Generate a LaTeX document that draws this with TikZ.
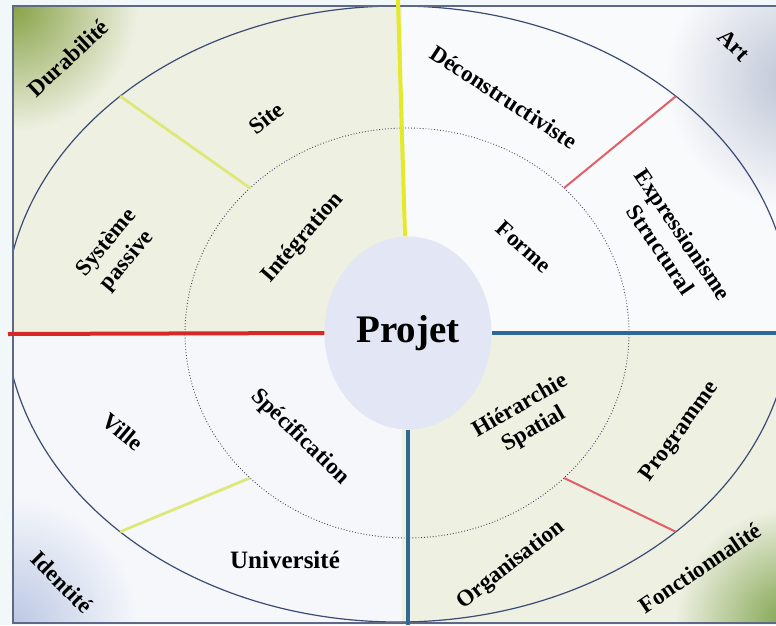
\documentclass[tikz,border=0pt]{standalone}
\usepackage{fontspec}
\setmainfont{Liberation Serif}
\usepackage{xcolor}
\usetikzlibrary{shapes.geometric,positioning}
\definecolor{cBack}{RGB}{242,247,250}
\definecolor{cFrame}{RGB}{95,105,135}
\definecolor{cRing}{RGB}{60,75,115}
\definecolor{cDot}{RGB}{70,75,95}
\definecolor{cBeige}{RGB}{238,240,226}
\definecolor{cWhite}{RGB}{249,250,252}
\definecolor{cPale}{RGB}{245,247,251}
\definecolor{cOlive}{RGB}{135,162,70}
\definecolor{cSlate}{RGB}{188,196,212}
\definecolor{cSky}{RGB}{188,200,228}
\definecolor{cMoss}{RGB}{125,162,75}
\definecolor{cYel}{RGB}{228,234,40}
\definecolor{cYelPale}{RGB}{222,232,120}
\definecolor{cRed}{RGB}{215,40,40}
\definecolor{cRose}{RGB}{225,95,105}
\definecolor{cBlue}{RGB}{45,105,150}
\definecolor{cCore}{RGB}{226,230,245}
\tikzset{
  lab/.style={font=\bfseries\fontsize{23}{27}\selectfont,align=center,inner sep=0pt},
  spoke/.style={line width=4pt},
}

\begin{document}
\begin{tikzpicture}[x=1pt,y=-1pt]
  \useasboundingbox (0,0) rectangle (776,625);
  \clip (0,0) rectangle (776,625);
  % page and quadrants
  \fill[cBack] (0,0) rectangle (776,625);
  \fill[cBeige] (13,6) rectangle (402,333);
  \fill[cWhite] (402,6) rectangle (790,333);
  \fill[cPale] (13,333) rectangle (402,623);
  \fill[cBeige] (402,333) rectangle (790,623);
  % corner shades
  \begin{scope}
    \clip (13,6) rectangle (402,333);
    \shade[inner color=cOlive,outer color=cBeige] (13,6) circle (125pt);
  \end{scope}
  \begin{scope}
    \clip (402,6) rectangle (790,333);
    \shade[inner color=cSlate,outer color=cWhite] (795,80) circle (130pt);
  \end{scope}
  \begin{scope}
    \clip (13,333) rectangle (402,623);
    \shade[inner color=cSky,outer color=cPale] (13,623) circle (125pt);
  \end{scope}
  \begin{scope}
    \clip (402,333) rectangle (790,623);
    \shade[inner color=cMoss,outer color=cBeige] (790,623) circle (115pt);
  \end{scope}
  % rings
  \coordinate (co) at (398,314);
  \coordinate (ci) at (407,333);
  \begin{scope}
    \clip (13,6) rectangle (790,623);
    \draw[cRing,line width=1.2pt] (co) ellipse [x radius=393pt,y radius=308pt];
  \end{scope}
  \draw[cDot,dotted,line width=0.9pt] (ci) ellipse [x radius=222pt,y radius=205pt];
  % frame
  \draw[cFrame,line width=1.5pt] (13,6) rectangle (790,623);
  % centre
  \node[ellipse,fill=cCore,minimum width=167pt,minimum height=193pt,inner sep=0pt,
        font=\bfseries\fontsize{39}{39}\selectfont] (proj) at (408,333) {Projet};
  % main spokes
  \coordinate (topY) at (398,0);
  \coordinate (leftR) at (8,334);
  \coordinate (rightB) at (776,333);
  \coordinate (downB) at (408,625);
  \draw[cYel,spoke] ([xshift=-3pt]proj.north) -- (topY);
  \draw[cRed,spoke] (proj.west) -- (leftR);
  \draw[cBlue,spoke] (proj.east) -- (rightB);
  \draw[cBlue,line width=3.5pt] (proj.south) -- (downB);
  % short spokes
  \foreach \a/\c/\w in {45/cRose/2pt,135/cYelPale/2.8pt,225/cYelPale/2.8pt,315/cRose/2pt}
    \draw[\c,line width=\w] ([shift={(\a:222pt and 205pt)}]ci) -- ([shift={(\a:393pt and 308pt)}]co);
  % labels
  \node[lab,rotate=43] (dur) at (68,58) {Durabilité};
  \node[lab,rotate=38] (site) at (266,118) {Site};
  \node[lab,rotate=50] (sys) at (117,252) {Système\\passive};
  \node[lab,rotate=49] (integ) at (303,238) {Intégration};
  \node[lab,rotate=-33] (decon) at (504,97) {Déconstructiviste};
  \node[lab,rotate=-45] (art) at (734,45) {Art};
  \node[lab,rotate=-42] (forme) at (524,247) {Forme};
  \node[lab,rotate=-56] (expr) at (672,242) {Expressionisme\\Structural};
  \node[lab,rotate=-40] (ville) at (123,432) {Ville};
  \node[lab,rotate=-44] (spec) at (300,437) {Spécification};
  \node[lab,font=\bfseries\fontsize{25}{27}\selectfont] (univ) at (285,560) {Université};
  \node[lab,rotate=-45] (ident) at (62,582) {Identité};
  \node[lab,rotate=30] (hier) at (527,418) {Hiérarchie\\Spatial};
  \node[lab,rotate=54] (prog) at (680,432) {Programme};
  \node[lab,rotate=38] (orga) at (511,565) {Organisation};
  \node[lab,rotate=34] (fonc) at (700,568) {Fonctionnalité};
\end{tikzpicture}
\end{document}
